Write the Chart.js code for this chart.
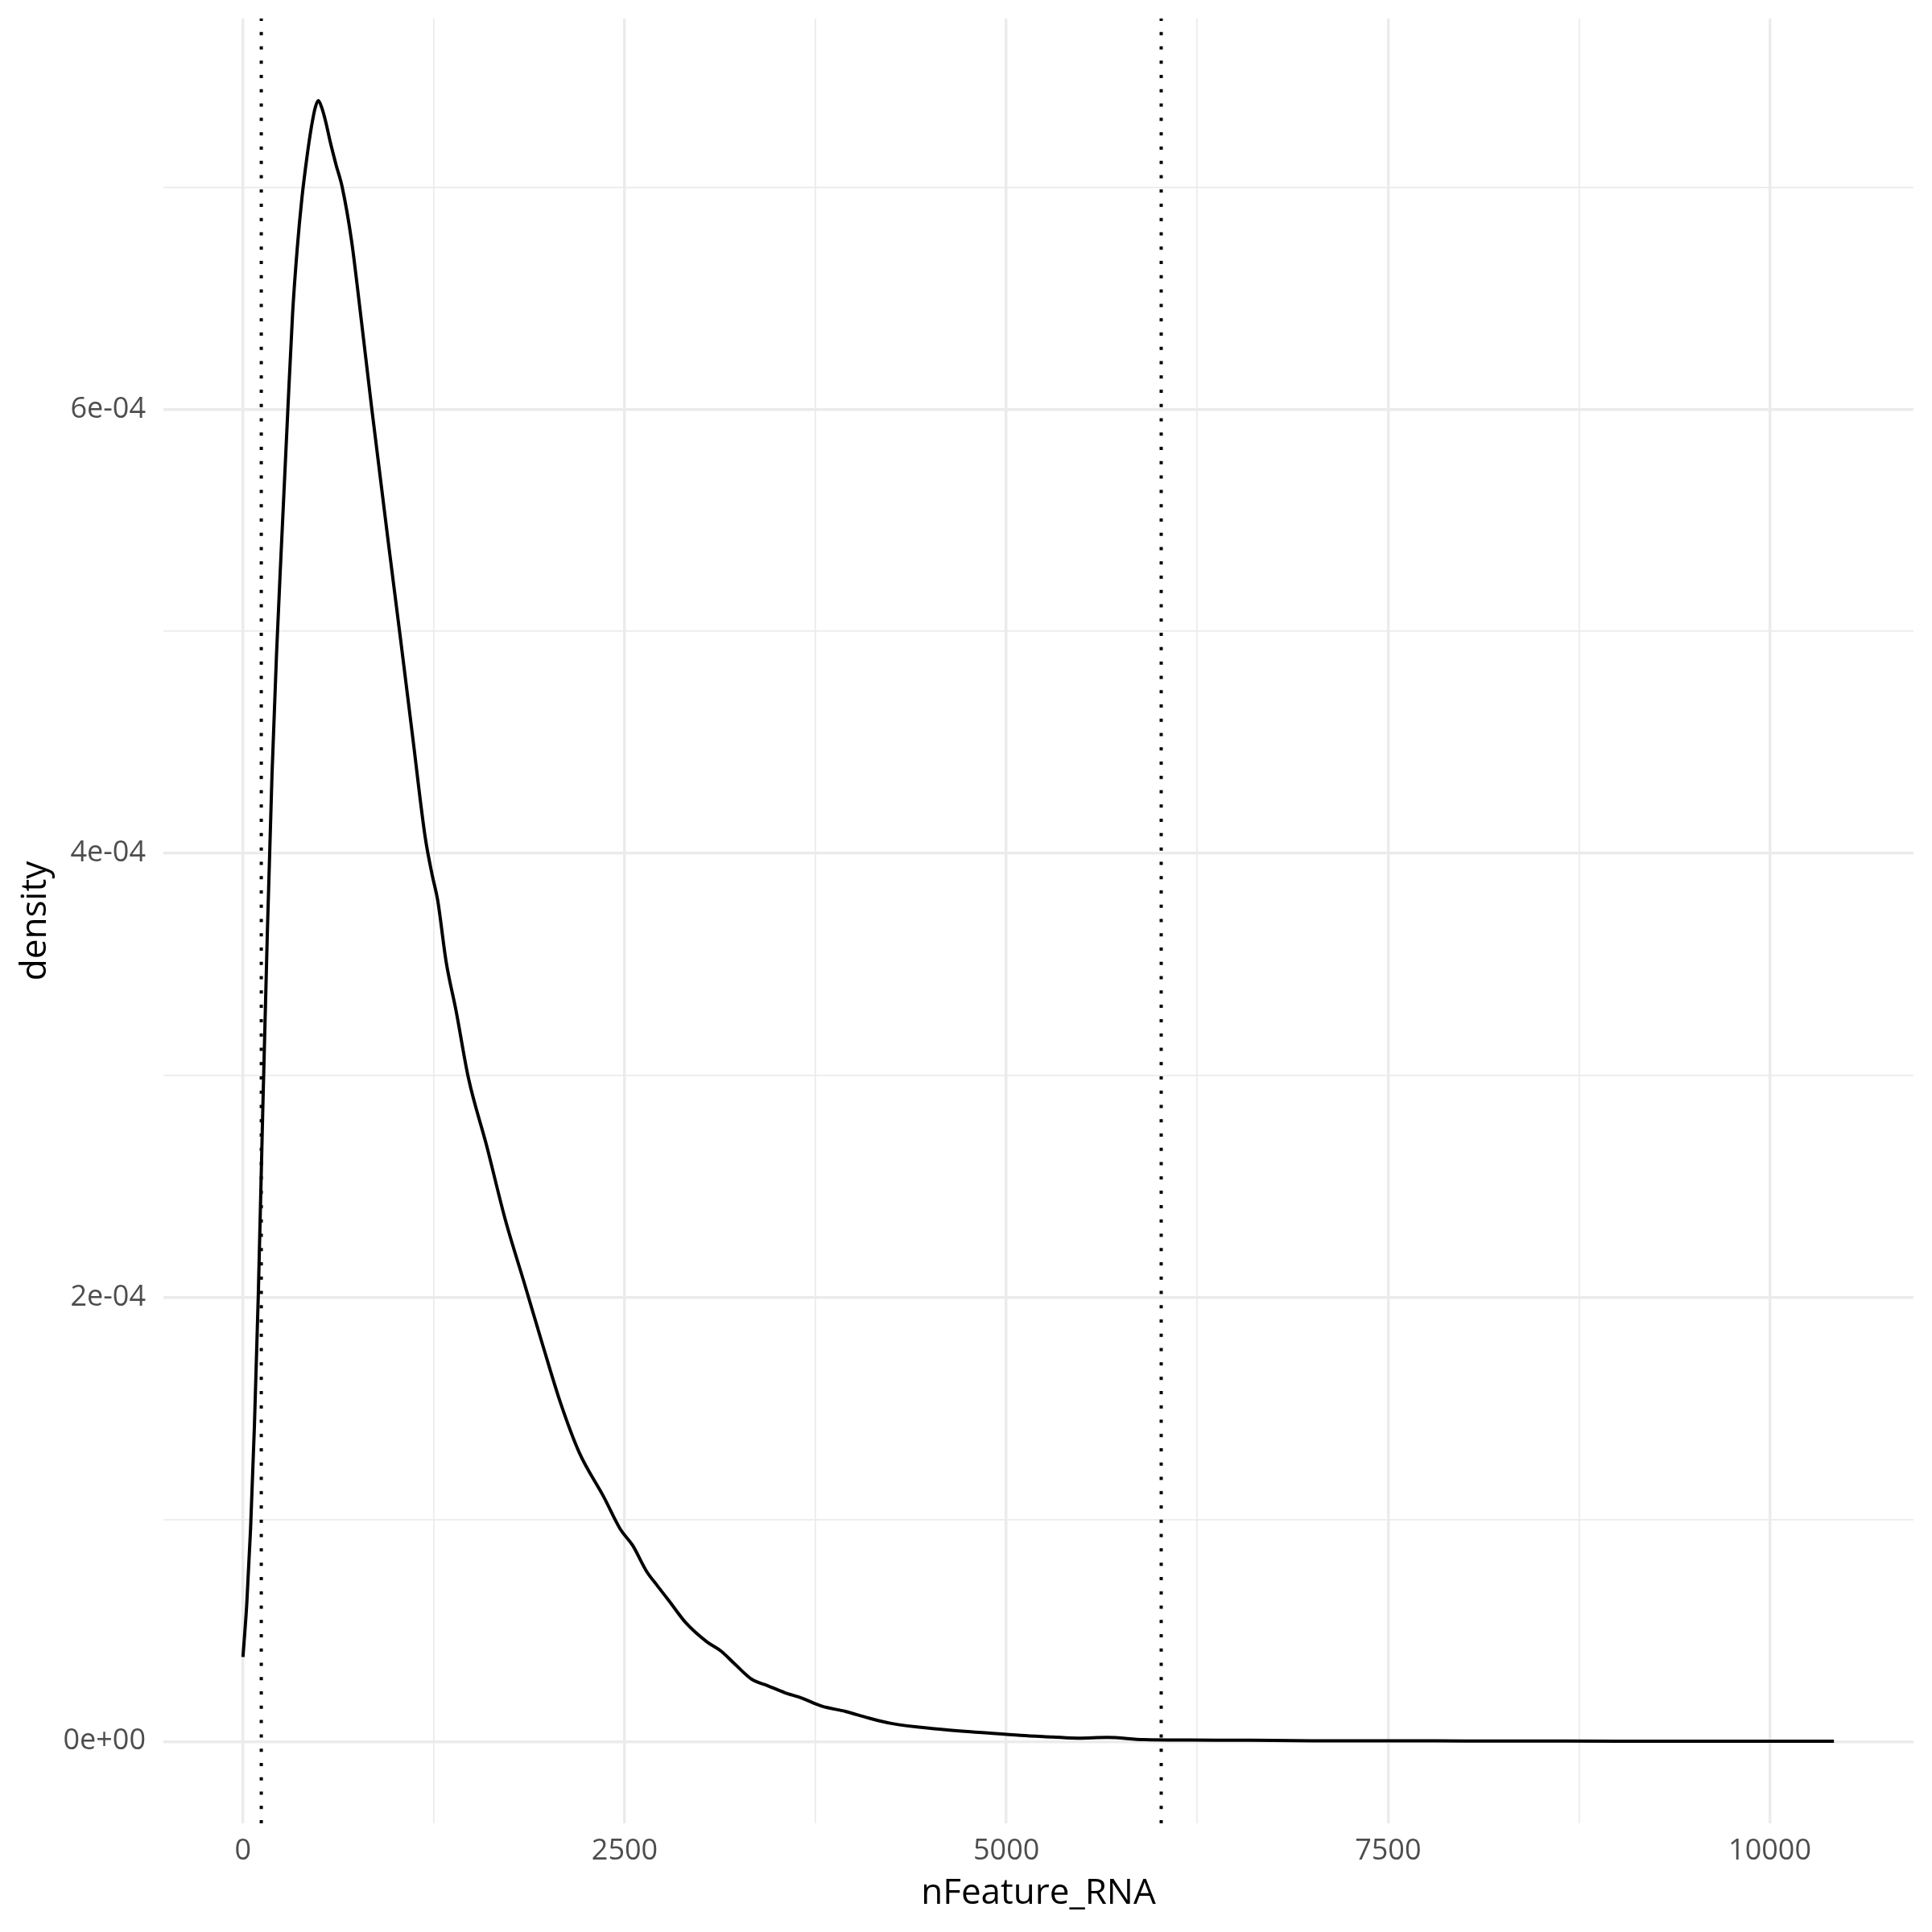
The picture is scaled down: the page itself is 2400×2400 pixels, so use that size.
<!DOCTYPE html>
<html>
<head>
<meta charset="utf-8">
<script src="https://cdn.jsdelivr.net/npm/chart.js@4.4.1/dist/chart.umd.min.js"></script>
<style>
  html, body { margin: 0; padding: 0; background: #fff; }
  #wrap { width: 2400px; height: 2400px; }
</style>
</head>
<body>
<div id="wrap"><canvas id="densityChart" width="2400" height="2400"></canvas></div>
<script>
// Density curve of nFeature_RNA
const nFeature = [0, 25, 50, 75, 100, 130, 160, 190, 220, 251, 290, 325, 355, 386, 420, 448, 474, 494, 515, 540,
  573, 610, 650, 711, 765, 844, 952, 1033, 1114, 1194, 1240, 1275, 1331, 1396, 1476, 1597, 1718, 1840, 1961, 2082,
  2203, 2364, 2471, 2552, 2646, 2713, 2794, 2902, 3037, 3131, 3225, 3332, 3440, 3547, 3655, 3790, 3946, 4100, 4246,
  4529, 4858, 5095, 5300, 5470, 5660, 5900, 6200, 6587, 7000, 7505, 8000, 8500, 9000, 9500, 10000, 10420];
const density = [0.38e-4, 0.62e-4, 0.96e-4, 1.42e-4, 2.0e-4, 2.85e-4, 3.65e-4, 4.35e-4, 4.9e-4, 5.37e-4, 5.94e-4,
  6.43e-4, 6.72e-4, 6.95e-4, 7.14e-4, 7.27e-4, 7.36e-4, 7.39e-4, 7.36e-4, 7.3e-4,
  7.2e-4, 7.1e-4, 7.0e-4, 6.76e-4, 6.46e-4, 6.0e-4, 5.4e-4, 4.96e-4, 4.51e-4, 4.07e-4, 3.9e-4, 3.79e-4, 3.51e-4,
  3.29e-4, 2.99e-4, 2.68e-4, 2.35e-4, 2.07e-4, 1.79e-4, 1.52e-4,
  1.3e-4, 1.1e-4, 0.956e-4, 0.883e-4, 0.763e-4, 0.702e-4, 0.63e-4, 0.533e-4, 0.449e-4, 0.407e-4, 0.346e-4,
  0.28e-4, 0.25e-4, 0.22e-4, 0.196e-4, 0.159e-4, 0.135e-4, 0.105e-4, 0.081e-4,
  0.057e-4, 0.039e-4, 0.027e-4, 0.02e-4, 0.0145e-4, 0.018e-4, 0.008e-4, 0.006e-4, 0.005e-4, 0.003e-4, 0.003e-4,
  0.002e-4, 0.0015e-4, 0.001e-4, 0.001e-4, 0.0008e-4, 0.0005e-4];

// dotted cut-off lines
const cutoffs = [120, 6014];

// axis breaks
const xMajor = [0, 2500, 5000, 7500, 10000];
const xMajorLabels = ['0', '2500', '5000', '7500', '10000'];
const xMinor = [1250, 3750, 6250, 8750];
const yMajor = [0, 2e-4, 4e-4, 6e-4];
const yMajorLabels = ['0e+00', '2e-04', '4e-04', '6e-04'];
const yMinor = [1e-4, 3e-4, 5e-4, 7e-4];

// ggplot style 5% expansion of the data range
const xLo = Math.min(...nFeature), xHi = Math.max(...nFeature);
const yLo = Math.min(...density), yHi = Math.max(...density);
const xMin = xLo - 0.05 * (xHi - xLo), xMax = xHi + 0.05 * (xHi - xLo);
const yMin = yLo - 0.05 * (yHi - yLo), yMax = yHi + 0.05 * (yHi - yLo);

const GRID = '#EBEBEB';
const MAJOR_W = 3.4, MINOR_W = 1.7;
const FONT = "'Open Sans', 'Noto Sans', sans-serif";

function isMajor(list, v, tol) {
    return list.some(m => Math.abs(m - v) < tol);
}

const curveData = nFeature.map((x, i) => ({ x: x, y: density[i] }));

const datasets = [{
    data: curveData,
    borderColor: '#000000',
    borderWidth: 4,
    pointRadius: 0,
    fill: false,
    cubicInterpolationMode: 'monotone',
    order: 2
}];
cutoffs.forEach(c => {
    // drawn bottom to top so the dash phase starts at the panel bottom
    datasets.push({
        data: [{ x: c, y: yMin }, { x: c, y: yMax }],
        borderColor: '#000000',
        borderWidth: 4,
        borderDash: [4, 13.77],
        borderCapStyle: 'butt',
        pointRadius: 0,
        fill: false,
        order: 1
    });
});

const ctx = document.getElementById('densityChart').getContext('2d');
new Chart(ctx, {
    type: 'line',
    data: { datasets: datasets },
    options: {
        responsive: false,
        animation: false,
        layout: { padding: { top: 23, right: 23, left: 0, bottom: 0 } },
        plugins: { legend: { display: false }, tooltip: { enabled: false } },
        scales: {
            x: {
                type: 'linear',
                min: xMin,
                max: xMax,
                afterFit: scale => {
                    scale.height = 135;
                    scale.paddingLeft = 0;
                    scale.paddingRight = 0;
                },
                afterBuildTicks: scale => {
                    scale.ticks = xMajor.concat(xMinor).sort((a, b) => a - b).map(v => ({ value: v }));
                },
                border: { display: false },
                grid: {
                    color: GRID,
                    drawTicks: false,
                    lineWidth: c => (c.tick && isMajor(xMajor, c.tick.value, 1)) ? MAJOR_W : MINOR_W
                },
                ticks: {
                    padding: 17,
                    color: '#4D4D4D',
                    font: { family: FONT, size: 36, lineHeight: 1 },
                    maxRotation: 0,
                    autoSkip: false,
                    callback: v => {
                        const i = xMajor.findIndex(m => Math.abs(m - v) < 1);
                        return i >= 0 ? xMajorLabels[i] : '';
                    }
                },
                title: {
                    display: true,
                    text: 'nFeature_RNA',
                    color: '#000000',
                    font: { family: FONT, size: 44, lineHeight: 1 },
                    padding: { top: 0, bottom: 26 }
                }
            },
            y: {
                type: 'linear',
                min: yMin,
                max: yMax,
                afterFit: scale => {
                    scale.width = 203;
                    scale.paddingTop = 0;
                    scale.paddingBottom = 0;
                },
                afterBuildTicks: scale => {
                    scale.ticks = yMajor.concat(yMinor).sort((a, b) => a - b).map(v => ({ value: v }));
                },
                border: { display: false },
                grid: {
                    color: GRID,
                    drawTicks: false,
                    lineWidth: c => (c.tick && isMajor(yMajor, c.tick.value, 1e-8)) ? MAJOR_W : MINOR_W
                },
                ticks: {
                    padding: 22,
                    color: '#4D4D4D',
                    font: { family: FONT, size: 36, lineHeight: 1 },
                    autoSkip: false,
                    callback: v => {
                        const i = yMajor.findIndex(m => Math.abs(m - v) < 1e-8);
                        return i >= 0 ? yMajorLabels[i] : '';
                    }
                },
                title: {
                    display: true,
                    text: 'density',
                    color: '#000000',
                    font: { family: FONT, size: 44, lineHeight: 1 },
                    padding: { top: 22, bottom: 0 }
                }
            }
        }
    }
});
</script>
</body>
</html>
